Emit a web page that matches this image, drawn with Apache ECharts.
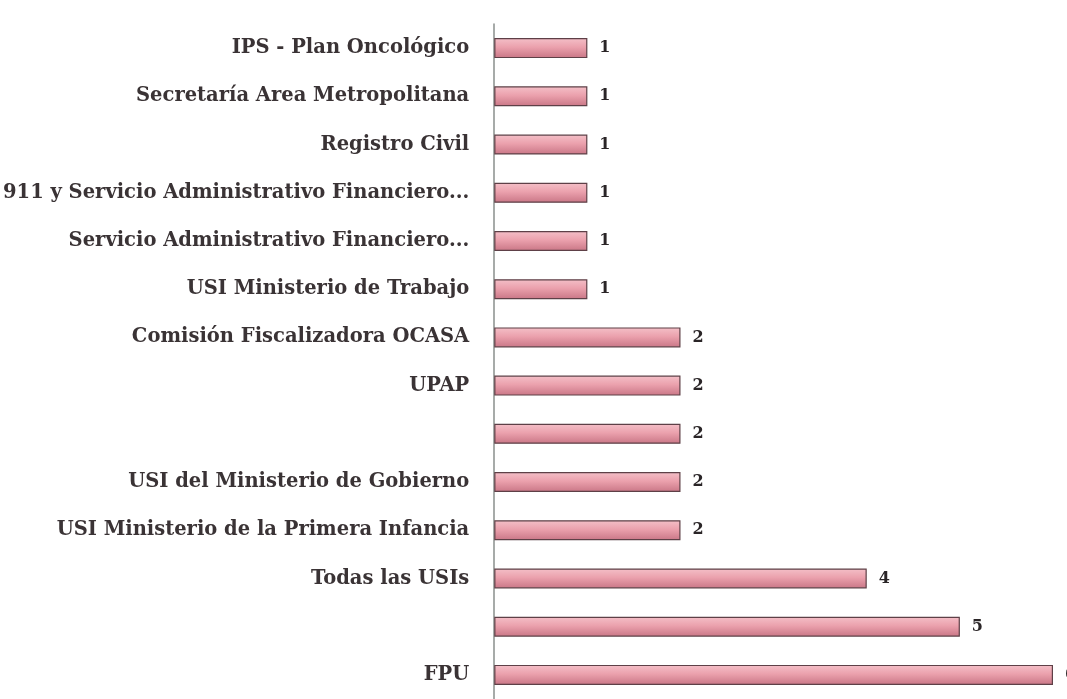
<!DOCTYPE html>
<html>
<head>
<meta charset="utf-8">
<script src="https://cdn.jsdelivr.net/npm/echarts@6/dist/echarts.min.js"></script>
<style>
  html, body { margin: 0; padding: 0; background: #fff; }
  #chart { width: 1067px; height: 699px; }
</style>
</head>
<body>
<div id="chart"></div>
<script>
// categorias de arriba hacia abajo (dos sin rotulo en la imagen)
var categories = [
  'IPS - Plan Oncológico',
  'Secretaría Area Metropolitana',
  'Registro Civil',
  '911 y Servicio Administrativo Financiero...',
  'Servicio Administrativo Financiero...',
  'USI Ministerio de Trabajo',
  'Comisión Fiscalizadora OCASA',
  'UPAP',
  '',
  'USI del Ministerio de Gobierno',
  'USI Ministerio de la Primera Infancia',
  'Todas las USIs',
  '',
  'FPU'
];
var values = [1, 1, 1, 1, 1, 1, 2, 2, 2, 2, 2, 4, 5, 6];

var chart = echarts.init(document.getElementById('chart'));
var option = {
  backgroundColor: '#fff',
  animation: false,
  grid: {
    left: 492,
    right: 14,
    top: 24,
    bottom: -9
  },
  xAxis: {
    type: 'value',
    min: 0,
    max: 6,
    show: false
  },
  yAxis: {
    type: 'category',
    inverse: true,
    data: categories,
    axisTick: { show: false },
    axisLine: { lineStyle: { color: '#8a8f8c', width: 1.5 } },
    axisLabel: {
      margin: 25,
      color: '#3a3335',
      fontFamily: 'DejaVu Serif',
      fontWeight: 'bold',
      fontSize: 19.5
    }
  },
  series: [
    {
      type: 'bar',
      data: values,
      barWidth: 20,
      itemStyle: {
        color: new echarts.graphic.LinearGradient(0, 0, 0, 1, [
          { offset: 0, color: '#f4c0c8' },
          { offset: 0.45, color: '#eba1ad' },
          { offset: 1, color: '#c97686' }
        ]),
        borderColor: '#5e4047',
        borderWidth: 1.2
      },
      label: {
        show: true,
        position: 'right',
        distance: 12,
        color: '#2a2527',
        fontFamily: 'DejaVu Serif',
        fontWeight: 'bold',
        fontSize: 16
      }
    }
  ]
};
chart.setOption(option);
</script>
</body>
</html>
